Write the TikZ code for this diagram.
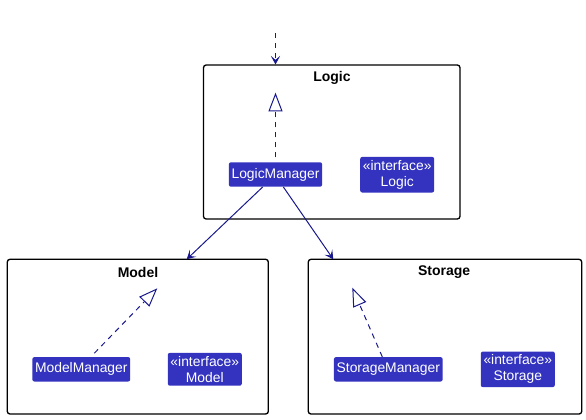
\documentclass[tikz,border=0pt]{standalone}
\usepackage{fontspec}
\setmainfont{Liberation Sans}
\usetikzlibrary{arrows.meta}

\definecolor{classfill}{RGB}{51,51,192}
\definecolor{linkcol}{RGB}{24,24,140}

\tikzset{
  pkg/.style={draw=black, line width=1pt, rounded corners=2pt},
  pkgtitle/.style={font=\fontsize{10.5}{12}\selectfont\bfseries},
  cls/.style={fill=classfill, text=white, rounded corners=1.5pt, align=center,
    inner xsep=2pt, inner ysep=2.5pt, minimum height=18.3pt,
    font=\fontsize{10.4}{12}\selectfont},
  dep/.style={draw=linkcol, line width=0.75pt,
    -{Stealth[length=6.5pt, width=7pt, inset=3pt]}},
  real/.style={draw=linkcol, line width=0.75pt, dash pattern=on 4pt off 3.5pt,
    -{Triangle[open, length=14pt, width=10.5pt]}},
}

\begin{document}
\begin{tikzpicture}[x=0.75pt,y=-0.75pt]
  \useasboundingbox (0,0) rectangle (586,419);

  % packages
  \draw[pkg] (203.5,65) rectangle (460,219);
  \node[pkgtitle] (logicTitle) at (332,77.5) {Logic};

  \draw[pkg] (7.3,259.3) rectangle (268.3,414);
  \node[pkgtitle] (modelTitle) at (138,272) {Model};

  \draw[pkg] (308.3,259.3) rectangle (581.7,414);
  \node[pkgtitle] (storageTitle) at (444.2,272) {Storage};

  % classes
  \node[cls] (logicManager) at (275.5,174.5) {LogicManager};
  \node[cls] (logicIf) at (397.2,174.7) {«interface»\\Logic};

  \node[cls] (modelManager) at (81.3,369.3) {ModelManager};
  \node[cls] (modelIf) at (204.8,369.3) {«interface»\\Model};

  \node[cls] (storageManager) at (388.3,369.3) {StorageManager};
  \node[cls] (storageIf) at (517.8,369.3) {«interface»\\Storage};

  % free ends
  \coordinate (caller) at (275.5,33);
  \coordinate (logicIn) at (275.5,64.5);
  \coordinate (modelIn) at (186.7,259.3);
  \coordinate (storageIn) at (333.3,259.3);
  \coordinate (logicReal) at (275.5,92.7);
  \coordinate (modelReal) at (157.3,288.3);
  \coordinate (storageReal) at (352.3,287.7);

  % links
  \draw[dep, dash pattern=on 4pt off 3.5pt] (caller) -- (logicIn);
  \draw[dep] ([xshift=-9.6pt]logicManager.south) -- (modelIn);
  \draw[dep] ([xshift=5.9pt]logicManager.south) -- (storageIn);

  \draw[real] ([yshift=3.5pt]logicManager.north) -- (logicReal);
  \draw[real] ([xshift=9.75pt,yshift=2.7pt]modelManager.north) -- (modelReal);
  \draw[real] ([xshift=-4.5pt]storageManager.north) -- (storageReal);

\end{tikzpicture}
\end{document}
